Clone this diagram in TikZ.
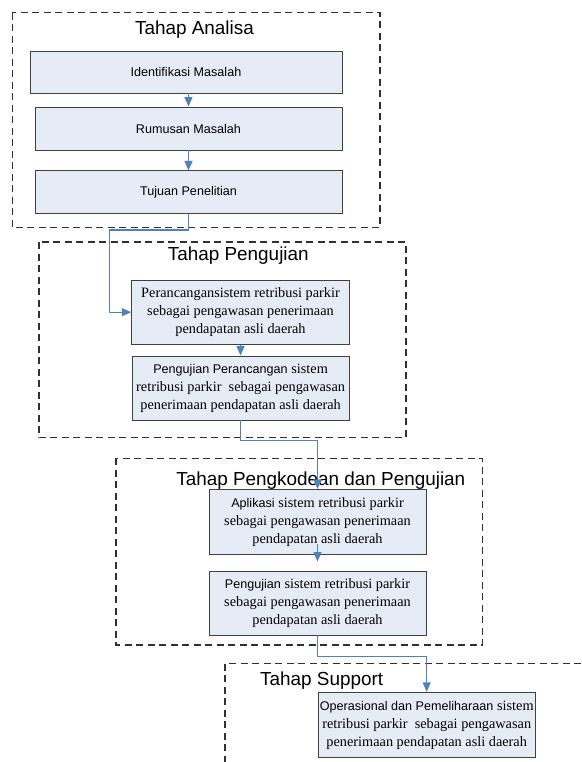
\documentclass[tikz,border=0pt]{standalone}
\usepackage{fontspec}
\setmainfont{Liberation Serif}
\setsansfont{Liberation Sans}
\usetikzlibrary{arrows.meta}

\definecolor{boxfill}{RGB}{230,236,246}
\definecolor{boxline}{RGB}{64,64,64}
\definecolor{connblue}{RGB}{79,129,189}
\definecolor{framegray}{RGB}{48,48,48}

% words set in the sans face inside the serif box texts
\newcommand{\arl}[1]{{\fontsize{12.6}{18}\selectfont\sffamily #1}}

\tikzset{
  stagebox/.style={draw=boxline, fill=boxfill, line width=0.9pt, inner sep=0pt,
    align=center, font=\fontsize{14.3}{18}\selectfont},
  frame/.style={draw=framegray, line width=1.1pt, dash pattern=on 7pt off 4.5pt},
  stagetitle/.style={anchor=base, inner sep=0pt, font=\fontsize{18.9}{22}\selectfont\sffamily},
  conn/.style={draw=connblue, line width=1.3pt,
    -{Triangle[width=8pt,length=9.5pt]}}
}

\begin{document}
\begin{tikzpicture}[x=1pt, y=-1pt]
\useasboundingbox (0,0) rectangle (581,762);

% dashed stage frames
\draw[frame] (12.3,12.7) rectangle (380,227.7);
\draw[frame] (39,242) rectangle (406,437.7);
\draw[frame] (116,458.3) rectangle (482.3,645);
\draw[frame] (581,663.3) -- (225,663.3) -- (225,762);

% stage titles
\node[stagetitle] (t1) at (194.5,35) {Tahap Analisa};
\node[stagetitle] (t2) at (238.3,260.7) {Tahap Pengujian};
\node[stagetitle] (t3) at (320.8,485) {Tahap Pengkodean dan Pengujian};
\node[stagetitle] (t4) at (321.7,685) {Tahap Support};

% analysis steps
\node[stagebox, minimum width=312pt, minimum height=42pt] (b1) at (186,72)
  {\arl{Identifikasi Masalah}};
\node[stagebox, minimum width=307pt, minimum height=43pt] (b2) at (188.5,128.5)
  {\arl{Rumusan Masalah}};
\node[stagebox, minimum width=307pt, minimum height=42.5pt] (b3) at (188.5,192.2)
  {\arl{Tujuan Penelitian}};

% design and testing
\node[stagebox, minimum width=217.6pt, minimum height=64.3pt] (b4) at (240.5,312.2)
  {Perancangansistem retribusi parkir\\sebagai pengawasan penerimaan\\pendapatan asli daerah};
\node[stagebox, minimum width=217.3pt, minimum height=64pt] (b5) at (240.6,388)
  {\arl{Pengujian Perancangan} sistem\\retribusi parkir\ \ sebagai pengawasan\\penerimaan pendapatan asli daerah};

% coding and testing
\node[stagebox, minimum width=217pt, minimum height=64.7pt] (b6) at (317.5,521.7)
  {\arl{Aplikasi} sistem retribusi parkir\\sebagai pengawasan penerimaan\\pendapatan asli daerah};
\node[stagebox, minimum width=217pt, minimum height=64pt] (b7) at (317.5,603)
  {\arl{Pengujian} sistem retribusi parkir\\sebagai pengawasan penerimaan\\pendapatan asli daerah};

% support
\node[stagebox, minimum width=216.7pt, minimum height=65pt] (b8) at (426.7,724.8)
  {\arl{Operasional dan Pemeliharaan} sistem\\retribusi parkir\ \ sebagai pengawasan\\penerimaan pendapatan asli daerah};

% bend points of the elbow connectors
\coordinate (k1) at (109.5,230);
\coordinate (k2) at (317.5,440.5);
\coordinate (k3) at (426.7,656.5);

% connectors
\draw[conn] (b1.south -| b2.north) -- (b2.north);
\draw[conn] (b2.south) -- (b3.north);
\draw[conn] (b3.south) |- (k1) |- (b4.west);
\draw[conn] (b4.south) -- (b5.north);
\draw[conn] (b5.south) |- (k2) -- (b6.north);
\draw[conn] ([yshift=11pt]b6.south) -- ([yshift=9pt]b7.north);
\draw[conn] (b7.south) |- (k3) -- (b8.north);
\end{tikzpicture}
\end{document}
